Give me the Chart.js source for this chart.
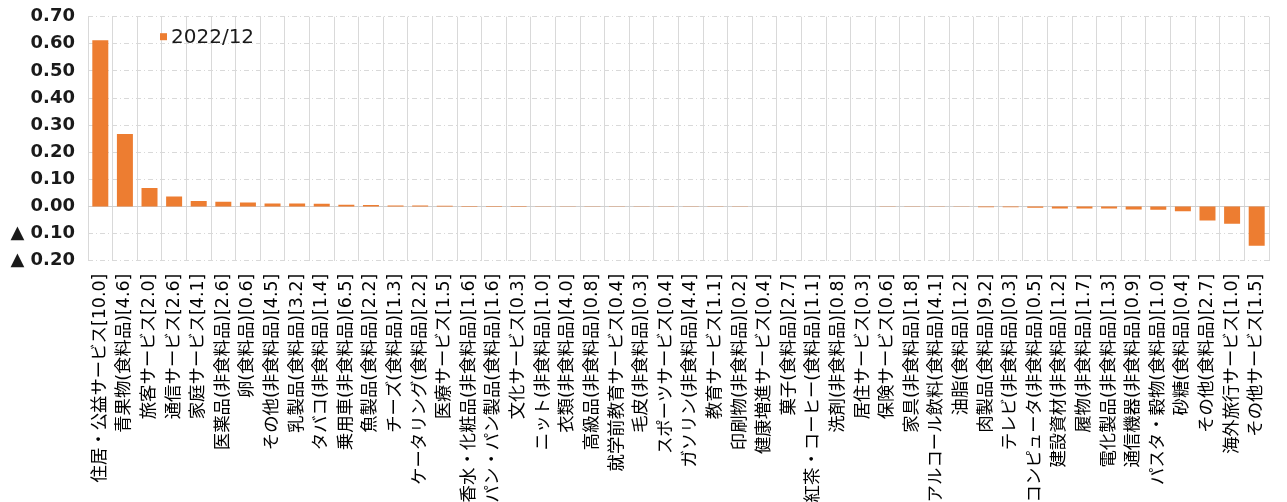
<!DOCTYPE html>
<html lang="ja">
<head>
<meta charset="utf-8">
<title>品目別寄与度 2022/12</title>
<script src="https://cdn.jsdelivr.net/npm/chart.js@4.4.1/dist/chart.umd.min.js"></script>
<style>
  html, body { margin: 0; padding: 0; background: #ffffff; }
  #wrap { position: relative; width: 1287px; height: 502px; overflow: hidden; }
  canvas { display: block; }
</style>
</head>
<body>
<div id="wrap"><canvas id="chart" width="1287" height="502"></canvas></div>
<script>
// 品目名（[ ]内はウェイト）
const categories = [
  '住居・公益サービス[10.0]', '青果物(食料品)[4.6]', '旅客サービス[2.0]', '通信サービス[2.6]',
  '家庭サービス[4.1]', '医薬品(非食料品)[2.6]', '卵(食料品)[0.6]', 'その他(非食料品)[4.5]',
  '乳製品(食料品)[3.2]', 'タバコ(非食料品)[1.4]', '乗用車(非食料品)[6.5]', '魚製品(食料品)[2.2]',
  'チーズ(食料品)[1.3]', 'ケータリング(食料品)[2.2]', '医療サービス[1.5]', '香水・化粧品(非食料品)[1.6]',
  'パン・パン製品(食料品)[1.6]', '文化サービス[0.3]', 'ニット(非食料品)[1.0]', '衣類(非食料品)[4.0]',
  '高級品(非食料品)[0.8]', '就学前教育サービス[0.4]', '毛皮(非食料品)[0.3]', 'スポーツサービス[0.4]',
  'ガソリン(非食料品)[4.4]', '教育サービス[1.1]', '印刷物(非食料品)[0.2]', '健康増進サービス[0.4]',
  '菓子(食料品)[2.7]', '紅茶・コーヒー(食料品)[1.1]', '洗剤(非食料品)[0.8]', '居住サービス[0.3]',
  '保険サービス[0.6]', '家具(非食料品)[1.8]', 'アルコール飲料(食料品)[4.1]', '油脂(食料品)[1.2]',
  '肉製品(食料品)[9.2]', 'テレビ(非食料品)[0.3]', 'コンピュータ(非食料品)[0.5]', '建設資材(非食料品)[1.2]',
  '履物(非食料品)[1.7]', '電化製品(非食料品)[1.3]', '通信機器(非食料品)[0.9]', 'パスタ・穀物(食料品)[1.0]',
  '砂糖(食料品)[0.4]', 'その他(食料品)[2.7]', '海外旅行サービス[1.0]', 'その他サービス[1.5]'
];

// 寄与度（%ポイント）
const contrib202212 = [
  0.613, 0.267, 0.068, 0.037, 0.020, 0.017, 0.015, 0.011,
  0.011, 0.010, 0.006, 0.005, 0.004, 0.004, 0.003, 0.002,
  0.002, 0.002, 0.001, 0.001, 0.001, 0.001, 0.0008, 0.0007,
  0.0006, 0.0005, 0.0004, 0.0003, 0.0002, 0.0001, 0.0, -0.0005,
  -0.0006, -0.0008, -0.0009, -0.001, -0.0025, -0.003, -0.005, -0.007,
  -0.007, -0.007, -0.011, -0.012, -0.018, -0.052, -0.064, -0.145
];

const seriesLabel = '2022/12';

// 縦軸目盛り
const yTickMin = -0.2;
const yTickMax = 0.7;
const yTickStep = 0.1;

const barColor = '#ED7D31';
const gridColor = '#d9d9d9';
const textColor = '#1a1a1a';

// 0 の基準線（実線）
const zeroLinePlugin = {
  id: 'zeroLine',
  beforeDatasetsDraw(chart) {
    const { ctx, chartArea, scales } = chart;
    const y = Math.round(scales.y.getPixelForValue(0)) + 0.5;
    ctx.save();
    ctx.strokeStyle = '#cfcfcf';
    ctx.lineWidth = 1;
    ctx.beginPath();
    ctx.moveTo(chartArea.left, y);
    ctx.lineTo(chartArea.right, y);
    ctx.stroke();
    ctx.restore();
  }
};

// グラフ内の凡例
const innerLegendPlugin = {
  id: 'innerLegend',
  afterDraw(chart) {
    const { ctx, chartArea } = chart;
    const ds = chart.data.datasets[0];
    const x = chartArea.left + 72;
    const y = chartArea.top + 20;
    ctx.save();
    ctx.fillStyle = ds.backgroundColor;
    ctx.fillRect(x, y - 3.5, 7, 7);
    ctx.fillStyle = textColor;
    ctx.font = '20px "DejaVu Sans"';
    ctx.textBaseline = 'middle';
    ctx.textAlign = 'left';
    ctx.fillText(ds.label, x + 11, y + 1);
    ctx.restore();
  }
};

new Chart(document.getElementById('chart'), {
  type: 'bar',
  data: {
    labels: categories,
    datasets: [{
      label: seriesLabel,
      data: contrib202212,
      backgroundColor: barColor,
      borderWidth: 0,
      barPercentage: 0.65,
      categoryPercentage: 1.0
    }]
  },
  options: {
    responsive: false,
    animation: false,
    layout: { padding: { top: 16.7, right: 18, left: 0, bottom: 0 } },
    plugins: {
      legend: { display: false },
      tooltip: { enabled: false }
    },
    scales: {
      x: {
        grid: { color: gridColor, lineWidth: 1, offset: true, drawTicks: false },
        border: { display: false },
        ticks: {
          autoSkip: false,
          maxRotation: 90,
          minRotation: 90,
          padding: 13,
          color: '#000000',
          font: { family: '"DejaVu Sans", "Noto Sans CJK JP"', size: 17.4 }
        },
        afterFit(scale) {
          scale.height = 241.3;
          scale.paddingLeft = 0;
          scale.paddingRight = 0;
        }
      },
      y: {
        min: yTickMin,
        max: yTickMax,
        grid: { color: gridColor, lineWidth: 1, drawTicks: false },
        border: { display: false, dash: [5, 3, 1, 3] },
        ticks: {
          stepSize: yTickStep,
          padding: 13,
          color: textColor,
          font: { family: '"DejaVu Sans"', size: 18, weight: 'bold' },
          callback(v) {
            const r = Math.round(v * 100) / 100;
            return r < 0 ? '▲ ' + Math.abs(r).toFixed(2) : r.toFixed(2);
          }
        },
        afterFit(scale) {
          scale.width = 88;
          scale.paddingTop = 0;
          scale.paddingBottom = 0;
        }
      }
    }
  },
  plugins: [zeroLinePlugin, innerLegendPlugin]
});
</script>
</body>
</html>
